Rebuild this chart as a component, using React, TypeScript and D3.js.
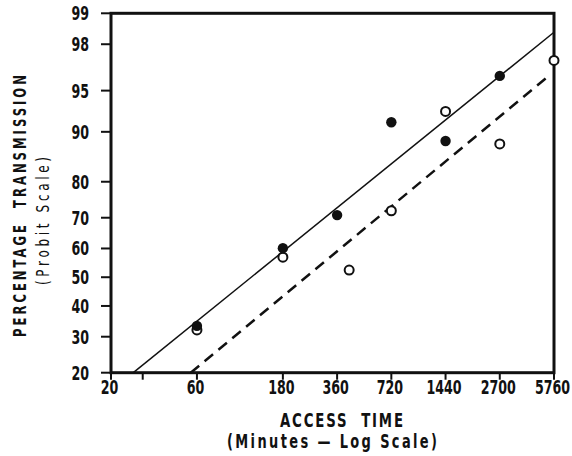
import React from "react";
import * as d3 from "d3";

// access time (minutes) ticks; the printed "2700" sits at the 48 h position
const xTicks = [20, 60, 180, 360, 720, 1440, 2880, 5760];
const xTickLabels = ["20", "60", "180", "360", "720", "1440", "2700", "5760"];
const xMinorTicks = [30];
const yTicks = [20, 30, 40, 50, 60, 70, 80, 90, 95, 98, 99];

// closed circles
const closedTime = [60, 180, 360, 720, 1440, 2880];
const closedPct = [33.4, 60.1, 70.8, 91.4, 88.5, 96.2];
// open circles
const openTime = [60, 180, 420, 720, 1440, 2880, 5760];
const openPct = [32.1, 57, 52.5, 72.1, 92.8, 88.0, 97.2];

// fitted lines (end points)
const solidTime = [26.6, 5760];
const solidPct = [20, 98.46];
const dashedTime = [55.4, 5500];
const dashedPct = [20, 96.3];

// inverse normal cdf (Acklam)
function probit(pct: number) {
    const p = pct / 100;
    const a = [-39.69683028665376, 220.9460984245205, -275.9285104469687, 138.357751867269, -30.66479806614716, 2.506628277459239];
    const b = [-54.47609879822406, 161.5858368580409, -155.6989798598866, 66.80131188771972, -13.28068155288572];
    const c = [-0.007784894002430293, -0.3223964580411365, -2.400758277161838, -2.549732539343734, 4.374664141464968, 2.938163982698783];
    const d = [0.007784695709041462, 0.3224671290700398, 2.445134137142996, 3.754408661907416];
    const pl = 0.02425;
    if (p < pl) {
        const q = Math.sqrt(-2 * Math.log(p));
        return (((((c[0] * q + c[1]) * q + c[2]) * q + c[3]) * q + c[4]) * q + c[5]) /
            ((((d[0] * q + d[1]) * q + d[2]) * q + d[3]) * q + 1);
    }
    if (p > 1 - pl) {
        const q = Math.sqrt(-2 * Math.log(1 - p));
        return -(((((c[0] * q + c[1]) * q + c[2]) * q + c[3]) * q + c[4]) * q + c[5]) /
            ((((d[0] * q + d[1]) * q + d[2]) * q + d[3]) * q + 1);
    }
    const q = p - 0.5;
    const r = q * q;
    return (((((a[0] * r + a[1]) * r + a[2]) * r + a[3]) * r + a[4]) * r + a[5]) * q /
        (((((b[0] * r + b[1]) * r + b[2]) * r + b[3]) * r + b[4]) * r + 1);
}

const font = "'DejaVu Sans Condensed', 'DejaVu Sans', sans-serif";
const squeeze = 0.74; // horizontal squeeze for the narrow lettering

export default function App() {
    const x = d3.scaleLog().domain([20, 5760]).range([111, 554]);
    const y = d3.scaleLinear().domain([probit(20), probit(99)]).range([372.7, 13.3]);
    const py = (v: number) => y(probit(v));

    const line = d3
        .line<[number, number]>()
        .x(d => x(d[0]))
        .y(d => py(d[1]));

    const solid = solidTime.map((t, i) => [t, solidPct[i]] as [number, number]);
    const dashed = dashedTime.map((t, i) => [t, dashedPct[i]] as [number, number]);

    const x0 = x(20), x1 = x(5760), yTop = py(99), yBot = py(20);

    return (
        <svg
            width={572}
            height={456}
            style={{ position: "absolute", left: 0, top: 0, background: "#fff" }}
            fontFamily={font}
        >
            {/* y ticks */}
            {yTicks.map(v => (
                <g key={v}>
                    <line x1={x0 - 10} x2={x0} y1={py(v)} y2={py(v)} stroke="#111" strokeWidth={2} />
                    <text
                        transform={`translate(89,${py(v) + 7}) scale(${squeeze},1)`}
                        textAnchor="end"
                        fontSize={19}
                        fontWeight="bold"
                        fill="#111"
                    >
                        {v}
                    </text>
                </g>
            ))}
            {/* x ticks */}
            {xTicks.map((v, i) => (
                <g key={v}>
                    <line x1={x(v)} x2={x(v)} y1={yBot} y2={yBot + 7} stroke="#111" strokeWidth={2} />
                    <text
                        transform={`translate(${x(v) - 1.5},394) scale(${squeeze},1)`}
                        textAnchor="middle"
                        fontSize={19}
                        fontWeight="bold"
                        fill="#111"
                    >
                        {xTickLabels[i]}
                    </text>
                </g>
            ))}
            {xMinorTicks.map(v => (
                <line key={v} x1={x(v)} x2={x(v)} y1={yBot} y2={yBot + 7} stroke="#111" strokeWidth={2} />
            ))}

            {/* frame */}
            <rect x={x0} y={yTop} width={x1 - x0} height={yBot - yTop} fill="none" stroke="#111" strokeWidth={3} />

            {/* fitted lines */}
            <path d={line(solid) || ""} fill="none" stroke="#111" strokeWidth={1.5} />
            <path d={line(dashed) || ""} fill="none" stroke="#111" strokeWidth={2.5} strokeDasharray="11 7" />

            {/* points */}
            {openTime.map((t, i) => (
                <circle key={"o" + i} cx={x(t)} cy={py(openPct[i])} r={4.5} fill="#fff" stroke="#111" strokeWidth={2} />
            ))}
            {closedTime.map((t, i) => (
                <circle key={"c" + i} cx={x(t)} cy={py(closedPct[i])} r={5.2} fill="#111" />
            ))}

            {/* axis titles */}
            <text
                transform={`translate(26,206) rotate(-90) scale(${squeeze},1)`}
                textAnchor="middle"
                fontSize={17.5}
                fontWeight="bold"
                fill="#111"
                textLength={262 / squeeze}
                lengthAdjust="spacing"
                style={{ whiteSpace: "pre" }}
            >
                PERCENTAGE  TRANSMISSION
            </text>
            <text
                transform={`translate(49,221) rotate(-90) scale(${squeeze},1)`}
                textAnchor="middle"
                fontSize={18}
                fill="#111"
                textLength={128 / squeeze}
                lengthAdjust="spacing"
            >
                (Probit Scale)
            </text>
            <text
                transform={`translate(341.5,427) scale(${squeeze},1)`}
                textAnchor="middle"
                fontSize={20}
                fontWeight="bold"
                fill="#111"
                textLength={123 / squeeze}
                lengthAdjust="spacing"
                style={{ whiteSpace: "pre" }}
            >
                ACCESS  TIME
            </text>
            <text
                transform={`translate(332,448) scale(${squeeze},1)`}
                textAnchor="middle"
                fontSize={19.5}
                fontWeight="bold"
                fill="#111"
                textLength={210 / squeeze}
                lengthAdjust="spacing"
                style={{ whiteSpace: "pre" }}
            >
                (Minutes — Log Scale)
            </text>
        </svg>
    );
}
